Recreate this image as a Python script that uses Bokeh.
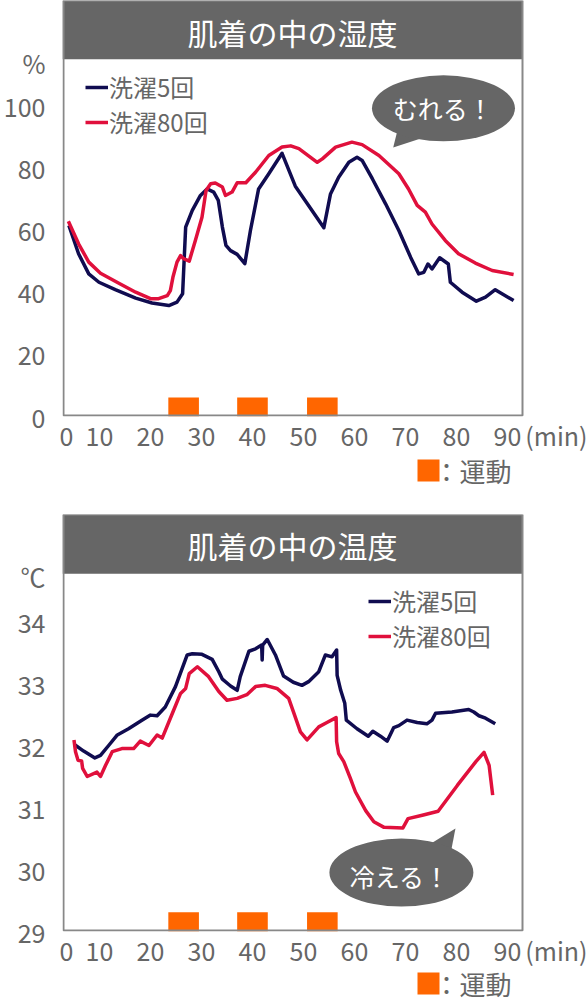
from bokeh.plotting import figure
from bokeh.models import (Legend, LegendItem, BoxAnnotation, Label, FixedTicker, Range1d)
from bokeh.layouts import column
from bokeh.embed import file_html
from bokeh.resources import INLINE
from bokeh.core.properties import value

# ---------------- data ----------------
# humidity (%) inside underwear, washed 5 times / 80 times
t_hum_5 = [4.0, 5.9, 7.9, 9.9, 13.1, 17.1, 20.3, 23.6, 25.2, 26.3, 26.9, 28.2, 29.8, 31.1, 32.4,
           33.3, 34.1, 34.8, 35.7, 37.0, 38.5, 39.6, 41.2, 43.2, 45.8, 48.4, 54.0, 55.3, 56.9,
           58.9, 60.5, 61.5, 63.5, 66.1, 68.7, 71.0, 72.6, 73.6, 74.4, 75.2, 76.7, 78.4, 78.8,
           81.1, 83.9, 85.7, 87.6, 91.2]
hum_5 = [61.6, 52.5, 46.0, 43.3, 40.9, 38.2, 36.6, 35.8, 36.9, 39.6, 61.1, 66.5, 71.3, 73.4, 72.4,
         69.7, 61.1, 55.2, 53.5, 52.3, 49.3, 60.0, 73.4, 78.3, 84.9, 74.3, 60.9, 71.8, 77.2,
         82.0, 83.6, 82.6, 76.7, 68.6, 60.0, 51.4, 46.0, 46.5, 49.2, 47.6, 51.2, 49.2, 43.3,
         40.1, 37.2, 38.5, 40.9, 37.4]
t_hum_80 = [3.9, 5.9, 7.9, 10.2, 13.8, 17.1, 20.0, 21.6, 23.3, 23.9, 24.4, 25.2, 25.9, 26.5, 27.6,
            28.8, 30.1, 30.6, 30.9, 31.8, 32.7, 34.1, 34.7, 36.0, 37.0, 38.7, 40.6, 43.2, 45.8,
            47.5, 49.1, 52.7, 53.7, 56.3, 59.5, 61.5, 64.8, 68.7, 70.6, 72.3, 73.9, 75.2, 77.8,
            80.4, 83.7, 87.0, 91.2]
hum_80 = [63.0, 55.7, 49.8, 46.2, 43.0, 40.1, 38.0, 38.0, 39.0, 40.6, 44.9, 49.8, 51.9, 50.9, 50.1,
          56.8, 64.3, 69.7, 72.9, 75.1, 75.3, 74.0, 71.3, 72.4, 75.4, 75.4, 78.8, 84.2, 86.9,
          87.3, 86.4, 82.0, 83.1, 86.9, 88.5, 87.7, 84.2, 78.3, 73.4, 68.1, 65.9, 62.1, 56.8,
          52.5, 49.5, 47.1, 45.8]

# temperature (deg C) inside underwear
t_tmp_5 = [5.0, 6.9, 9.1, 10.2, 11.8, 13.5, 15.7, 18.4, 20.0, 21.3, 22.9, 24.9, 27.2, 28.2, 30.1,
           32.1, 33.4, 34.1, 35.7, 37.0, 37.6, 39.3, 40.6, 41.8, 41.9, 42.0, 42.9, 44.5, 46.1,
           48.0, 49.7, 51.0, 53.0, 54.3, 55.6, 56.5, 56.6, 57.3, 58.1, 58.4, 60.5, 62.7, 63.6,
           65.1, 66.4, 67.7, 68.7, 70.3, 72.3, 74.2, 75.2, 75.9, 79.1, 82.4, 83.4, 84.4, 85.7, 87.6]
tmp_5 = [32.02, 31.91, 31.80, 31.84, 32.00, 32.17, 32.27, 32.41, 32.49, 32.48, 32.62, 32.95, 33.46,
         33.48, 33.47, 33.39, 33.19, 33.07, 32.96, 32.89, 33.11, 33.52, 33.56, 33.62, 33.38, 33.62,
         33.71, 33.46, 33.12, 33.02, 32.97, 33.03, 33.19, 33.46, 33.43, 33.54, 33.13, 32.89, 32.68,
         32.41, 32.27, 32.15, 32.23, 32.15, 32.07, 32.29, 32.32, 32.41, 32.37, 32.35, 32.41, 32.52,
         32.54, 32.58, 32.54, 32.48, 32.44, 32.35]
t_tmp_80 = [5.0, 5.3, 5.8, 6.5, 6.7, 7.6, 9.5, 10.2, 11.2, 12.5, 14.4, 16.7, 18.0, 19.7, 21.3, 22.3,
            24.3, 25.9, 26.9, 27.6, 29.2, 31.4, 33.4, 35.0, 37.0, 38.9, 40.6, 42.5, 44.8, 47.1,
            48.0, 49.4, 50.7, 53.0, 54.6, 56.4, 56.5, 56.9, 57.9, 59.2, 60.2, 62.2, 63.8, 65.8,
            69.5, 70.5, 73.5, 76.4, 80.2, 83.8, 85.4, 86.4, 87.1]
tmp_80 = [32.09, 31.90, 31.76, 31.75, 31.63, 31.50, 31.57, 31.50, 31.68, 31.90, 31.95, 31.95, 32.07,
          32.00, 32.17, 32.12, 32.52, 32.84, 32.92, 33.16, 33.27, 33.11, 32.87, 32.73, 32.76, 32.82,
          32.95, 32.97, 32.92, 32.76, 32.55, 32.22, 32.09, 32.30, 32.37, 32.45, 32.06, 31.87, 31.74,
          31.47, 31.25, 30.95, 30.77, 30.68, 30.67, 30.82, 30.88, 30.94, 31.36, 31.74, 31.89, 31.68,
          31.20]

# exercise periods (min)
ex_start = [23.5, 37.0, 50.7]
ex_end = [29.5, 43.0, 56.7]

x_tick_vals = [3.5, 10, 20, 30, 40, 50, 60, 70, 80, 90, 99.6]
x_tick_text = ["0", "10", "20", "30", "40", "50", "60", "70", "80", "90", "(min)"]
hum_ticks = [0, 20, 40, 60, 80, 100, 113.9]
hum_tick_text = ["0", "20", "40", "60", "80", "100", "%"]
tmp_ticks = [29, 30, 31, 32, 33, 34, 34.74]
tmp_tick_text = ["29", "30", "31", "32", "33", "34", "℃"]

series_names = ["洗濯5回", "洗濯80回"]
titles = ["肌着の中の湿度", "肌着の中の温度"]
bubbles = ["むれる！", "冷える！"]
exercise_label = "：運動"

# ---------------- style ----------------
FONT = "Noto Sans CJK JP"
GRAY = "#666666"
NAVY = "#100c50"
RED = "#e0103c"
ORANGE = "#ff6600"
PX_PER_MIN = 5.1
X0 = 2.75                      # left edge of the chart box
XB = X0 + 460 / PX_PER_MIN     # right edge of the chart box
XR = X0 + 525 / PX_PER_MIN     # right edge of the canvas


def base_fig(y0, y1, frame_h, top_border, bottom_border, yticks, ytext):
    p = figure(frame_width=525, frame_height=frame_h, x_range=Range1d(X0, XR),
               y_range=Range1d(y0, y1), output_backend="svg", toolbar_location=None,
               title=None, min_border_left=62, min_border_right=0,
               min_border_top=top_border, min_border_bottom=bottom_border)
    p.background_fill_color = "white"
    p.border_fill_color = "white"
    p.outline_line_color = None
    p.grid.visible = False
    for ax in (p.xaxis[0], p.yaxis[0]):
        ax.axis_line_color = None
        ax.major_tick_line_color = None
        ax.minor_tick_line_color = None
        ax.major_tick_out = 0
        ax.major_tick_in = 0
        ax.minor_tick_out = 0
        ax.major_label_text_color = GRAY
        ax.major_label_text_font = FONT
        ax.major_label_text_font_size = "25px"
    p.xaxis.ticker = FixedTicker(ticks=x_tick_vals)
    p.xaxis.major_label_overrides = {v: s for v, s in zip(x_tick_vals, x_tick_text)}
    p.xaxis.major_label_standoff = 0
    p.yaxis.ticker = FixedTicker(ticks=yticks)
    p.yaxis.major_label_overrides = {v: s for v, s in zip(yticks, ytext)}
    p.yaxis.major_label_standoff = 17
    return p


def decorate(p, title, title_y, bar_bottom, px_y, ex_h, xs5, ys5, xs80, ys80, leg_x, leg_y):
    y0, y1 = p.y_range.start, p.y_range.end
    p.add_layout(BoxAnnotation(left=X0, right=XB, bottom=bar_bottom, fill_color=GRAY,
                               fill_alpha=1.0, line_color=None))
    p.add_layout(BoxAnnotation(left=X0 + 1 / PX_PER_MIN, right=XB, bottom=y0 + px_y, top=y1,
                               fill_alpha=0, line_color="#888888", line_alpha=1.0,
                               line_width=2))
    p.add_layout(Label(x=(X0 + XB) / 2, y=title_y, text=title, text_align="center",
                       text_baseline="middle", text_color="white", text_font=FONT,
                       text_font_size="30px"))
    p.quad(left=ex_start, right=ex_end, bottom=[y0] * 3, top=[y0 + ex_h] * 3,
           fill_color=ORANGE, line_color=None)
    r5 = p.line(xs5, ys5, line_color=NAVY, line_width=3.5, line_join="round")
    r80 = p.line(xs80, ys80, line_color=RED, line_width=3.5, line_join="round")
    for name, r, ly in zip(series_names, (r5, r80), leg_y):
        leg = Legend(items=[LegendItem(label=name, renderers=[r])],
                     location=(leg_x, ly), padding=0, margin=0,
                     border_line_color=None, background_fill_alpha=0,
                     glyph_width=23, glyph_height=24, label_height=24, label_standoff=1,
                     label_text_font=FONT, label_text_font_size="24px",
                     label_text_color=GRAY)
        p.add_layout(leg)


def key_fig(height, key_bottom, key_top, text_y):
    # small transparent strip holding the "exercise" key below a chart
    k = figure(frame_width=525, frame_height=height, x_range=Range1d(62, 587),
               y_range=Range1d(0, height), output_backend="svg", toolbar_location=None,
               title=None, x_axis_location=None, y_axis_location=None,
               min_border_left=62, min_border_right=0, min_border_top=0, min_border_bottom=0,
               margin=(-8, 0, 0, 0))
    k.outline_line_color = None
    k.background_fill_alpha = 0
    k.border_fill_alpha = 0
    k.grid.visible = False
    k.quad(left=[417], right=[439], bottom=[key_bottom], top=[key_top],
           fill_color=ORANGE, line_color=None)
    k.text(x=[433], y=[text_y], text=[exercise_label], text_align="left",
           text_baseline="middle", text_color=GRAY, text_font=value(FONT),
           text_font_size="26px")
    return k


# ---------------- humidity chart ----------------
p1 = base_fig(0, 134.19, 416, 0, 40, hum_ticks, hum_tick_text)
decorate(p1, titles[0], 123.9, 115.2, 1 / 3.1, 6.1, t_hum_5, hum_5, t_hum_80, hum_80,
         23, (312, 277))
p1.patch([67.6, 68.6, 73.6], [86.8, 93.5, 90.0], fill_color=GRAY, line_color=None)
p1.ellipse(x=[77.45], y=[99.4], width=143, height=66, width_units="screen",
           height_units="screen", fill_color=GRAY, line_color=None)
p1.text(x=[77.3], y=[99.4], text=[bubbles[0]], text_align="center", text_baseline="middle",
        text_color="white", text_font=value(FONT), text_font_size="25px")
k1 = key_fig(44, 11, 33, 22)

# ---------------- temperature chart ----------------
p2 = base_fig(29, 29 + 417 / 62, 417, 22, 40, tmp_ticks, tmp_tick_text)
decorate(p2, titles[1], 35.24, 34.77, 1 / 62, 0.31, t_tmp_5, tmp_5, t_tmp_80, tmp_80,
         306, (313, 278))
p2.patch([79.8, 74.6, 78.9], [30.66, 30.40, 30.28], fill_color=GRAY, line_color=None)
p2.ellipse(x=[69.2], y=[29.95], width=144, height=68, width_units="screen",
           height_units="screen", fill_color=GRAY, line_color=None)
p2.text(x=[68.9], y=[29.9], text=[bubbles[1]], text_align="center", text_baseline="middle",
        text_color="white", text_font=value(FONT), text_font_size="25px")
k2 = key_fig(39, 8, 30, 19)

layout = column(p1, k1, p2, k2, spacing=0)
open("out.html", "w").write(file_html(layout, INLINE))
